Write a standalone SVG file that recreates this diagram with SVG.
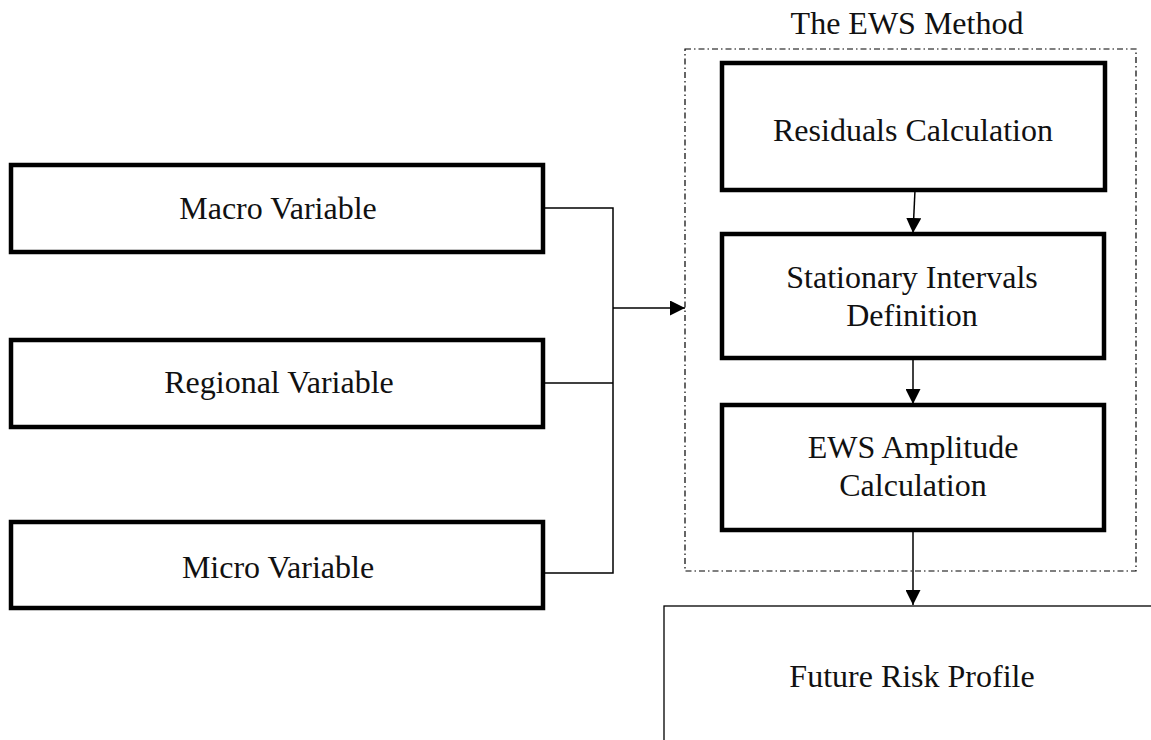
<svg xmlns="http://www.w3.org/2000/svg" width="1151" height="740" viewBox="0 0 1151 740">
  <defs>
    <style>
      .box { fill: #fff; stroke: #000; stroke-width: 4.5; }
      .thin { fill: #fff; stroke: #000; stroke-width: 1.3; }
      .group { fill: none; stroke: #000; stroke-width: 1.2; stroke-dasharray: 6 3 1.5 3; }
      .line { fill: none; stroke: #000; stroke-width: 1.5; }
      text { font-family: "Liberation Serif", "Times New Roman", serif; font-size: 32px; fill: #111; text-anchor: middle; }
    </style>
    <marker id="arrowL" viewBox="0 0 14 14" refX="14" refY="7" markerWidth="15" markerHeight="15" markerUnits="userSpaceOnUse" orient="auto">
      <path d="M0,0 L14,7 L0,14 z" fill="#000"/>
    </marker>
  </defs>
  <rect width="1151" height="740" fill="#fff"/>

  <!-- EWS method grouping frame -->
  <g id="ews-method">
    <rect class="group" x="685" y="49" width="451" height="522"/>
    <text x="907" y="34">The EWS Method</text>
  </g>

  <g id="macro">
    <rect class="box" x="11" y="165" width="532" height="87"/>
    <text x="278" y="219">Macro Variable</text>
  </g>
  <g id="regional">
    <rect class="box" x="11" y="340" width="532" height="87"/>
    <text x="279" y="393">Regional Variable</text>
  </g>
  <g id="micro">
    <rect class="box" x="11" y="522" width="532" height="86"/>
    <text x="278" y="578">Micro Variable</text>
  </g>

  <g id="residuals">
    <rect class="box" x="722" y="63" width="383" height="127"/>
    <text x="913" y="141">Residuals Calculation</text>
  </g>
  <g id="stationary">
    <rect class="box" x="722" y="234" width="382" height="124"/>
    <text x="912" y="288">Stationary Intervals</text>
    <text x="912" y="326">Definition</text>
  </g>
  <g id="amplitude">
    <rect class="box" x="722" y="405" width="382" height="125"/>
    <text x="913" y="458">EWS Amplitude</text>
    <text x="913" y="496">Calculation</text>
  </g>

  <g id="future-risk">
    <rect class="thin" x="664" y="606" width="520" height="160"/>
    <text x="912" y="687">Future Risk Profile</text>
  </g>

  <g id="connectors">
    <path class="line" d="M543,208 H613 V573 H543"/>
    <path class="line" d="M543,383 H613"/>
    <path class="line" d="M613,308 H685" marker-end="url(#arrowL)"/>
    <path class="line" d="M915,190 L913,233" marker-end="url(#arrowL)"/>
    <path class="line" d="M913,358 V404" marker-end="url(#arrowL)"/>
    <path class="line" d="M913,530 V605" marker-end="url(#arrowL)"/>
  </g>
</svg>
